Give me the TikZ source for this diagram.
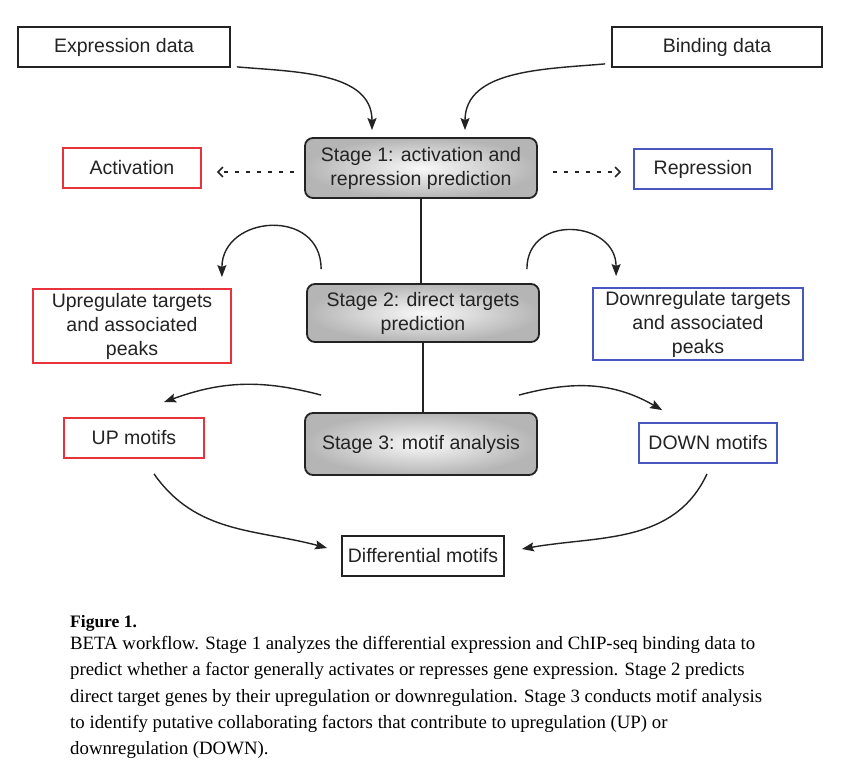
\documentclass[tikz,border=0pt]{standalone}
\usepackage{xcolor}
\usepackage{fontspec}
\usepackage{tikz}
\usetikzlibrary{positioning, calc, arrows.meta, shapes}
\newfontfamily\diagfont{Liberation Sans}
\newfontfamily\capfont{Liberation Serif}
\definecolor{upred}{RGB}{232,50,60}
\definecolor{downblue}{RGB}{72,86,192}
\definecolor{ink}{RGB}{35,35,35}

\begin{document}
\begin{tikzpicture}[x=1pt, y=1pt,
	every node/.style={font=\diagfont\fontsize{19.5}{24}\selectfont, text=ink, inner sep=0pt, align=center},
	plainbox/.style={draw=ink, line width=1.8pt},
	upbox/.style={draw=upred, line width=1.8pt},
	downbox/.style={draw=downblue, line width=1.8pt},
	stagebox/.style={draw=ink, line width=1.8pt, rounded corners=8pt, inner color=gray!5, outer color=gray!58, minimum width=232pt, minimum height=60pt},
	arr/.style={-{Stealth[length=12pt, width=9pt, inset=2pt]}, line width=1.4pt, draw=ink},
	dotarr/.style={-{Straight Barb[length=5pt, width=10pt]}, line width=1.5pt, dash pattern=on 4pt off 7pt, draw=ink},
	link/.style={line width=1.2pt, draw=ink}]
	
	%//page, 845 x 768
	\fill[white] (0,0) rectangle (845,768);
	\useasboundingbox (0,0) rectangle (845,768);
	
	\node[plainbox, minimum width=212pt, minimum height=40pt] (expr) at (124,721) {Expression data};
	\node[plainbox, minimum width=210pt, minimum height=40pt] (bind) at (717,721) {Binding data};
	
	\node[stagebox] (stage1) at (421,600) {Stage 1: activation and\\repression prediction};
	\node[upbox, minimum width=138pt, minimum height=40pt] (act) at (132,600) {Activation};
	\node[downbox, minimum width=138pt, minimum height=40pt] (rep) at (703,599) {Repression};
	
	\node[stagebox, minimum height=58pt] (stage2) at (423,455) {Stage 2: direct targets\\prediction};
	\node[upbox, minimum width=198pt, minimum height=74pt] (upt) at (132,442) {Upregulate targets\\and associated\\peaks};
	\node[downbox, minimum width=210pt, minimum height=72pt] (downt) at (698,444) {Downregulate targets\\and associated\\peaks};
	
	\node[stagebox, minimum height=62pt] (stage3) at (421,324) {Stage 3: motif analysis};
	\node[upbox, minimum width=140pt, minimum height=40pt] (upm) at (134,330) {UP motifs};
	\node[downbox, minimum width=138pt, minimum height=40pt] (downm) at (708,325) {DOWN motifs};
	
	\node[plainbox, minimum width=162pt, minimum height=40pt] (diffm) at (423,212) {Differential motifs};
	
	%//inputs
	\draw[arr] ([xshift=6pt, yshift=1pt]expr.south east) to[out=-5, in=90] ([xshift=-49pt, yshift=7pt]stage1.north);
	\draw[arr] ([xshift=-6pt, yshift=4pt]bind.south west) to[out=185, in=90] ([xshift=44pt, yshift=7pt]stage1.north);
	
	\draw[dotarr, shorten <=10pt, shorten >=15pt] ([yshift=-4pt]stage1.west) -- ([yshift=-4pt]act.east);
	\draw[dotarr, shorten <=15pt, shorten >=12pt] ([yshift=-4pt]stage1.east) -- ([yshift=-3pt]rep.west);
	
	%//stages
	\draw[link] (stage1.south) -- (stage1.south |- stage2.north);
	\draw[link] (stage2.south) -- (stage2.south |- stage3.north);
	
	\draw[arr, looseness=1.6] ([xshift=15pt, yshift=14pt]stage2.north west) to[out=90, in=90] ([xshift=-10pt, yshift=11pt]upt.north east);
	\draw[arr, looseness=1.6] ([xshift=-13pt, yshift=14pt]stage2.north east) to[out=90, in=90] ([xshift=24pt, yshift=11pt]downt.north west);
	
	\draw[arr] ([xshift=17pt, yshift=17pt]stage3.north west) to[out=165, in=20] ([xshift=30pt, yshift=15pt]upm.north);
	\draw[arr] ([xshift=-19pt, yshift=17pt]stage3.north east) to[out=15, in=150] ([xshift=24pt, yshift=12pt]downm.north west);
	
	\draw[arr] ([xshift=20pt, yshift=-15pt]upm.south) to[out=-55, in=165] ([xshift=-14pt, yshift=8pt]diffm.west);
	\draw[arr] ([xshift=-1pt, yshift=-10pt]downm.south) to[out=-115, in=10] ([xshift=17pt, yshift=7pt]diffm.east);
	
	%//caption
	\node[anchor=base west, font=\capfont\bfseries\fontsize{17.5}{20}\selectfont, text=black] (figlbl) at (70,140) {Figure 1.};
	\node[anchor=north west, font=\capfont\fontsize{18.8}{26.3}\selectfont, align=left, text=black] (caption) at (70,132)
	{BETA workflow. Stage 1 analyzes the differential expression and ChIP-seq binding data to\\
	predict whether a factor generally activates or represses gene expression. Stage 2 predicts\\
	direct target genes by their upregulation or downregulation. Stage 3 conducts motif analysis\\
	to identify putative collaborating factors that contribute to upregulation (UP) or\\
	downregulation (DOWN).};
\end{tikzpicture}
\end{document}
